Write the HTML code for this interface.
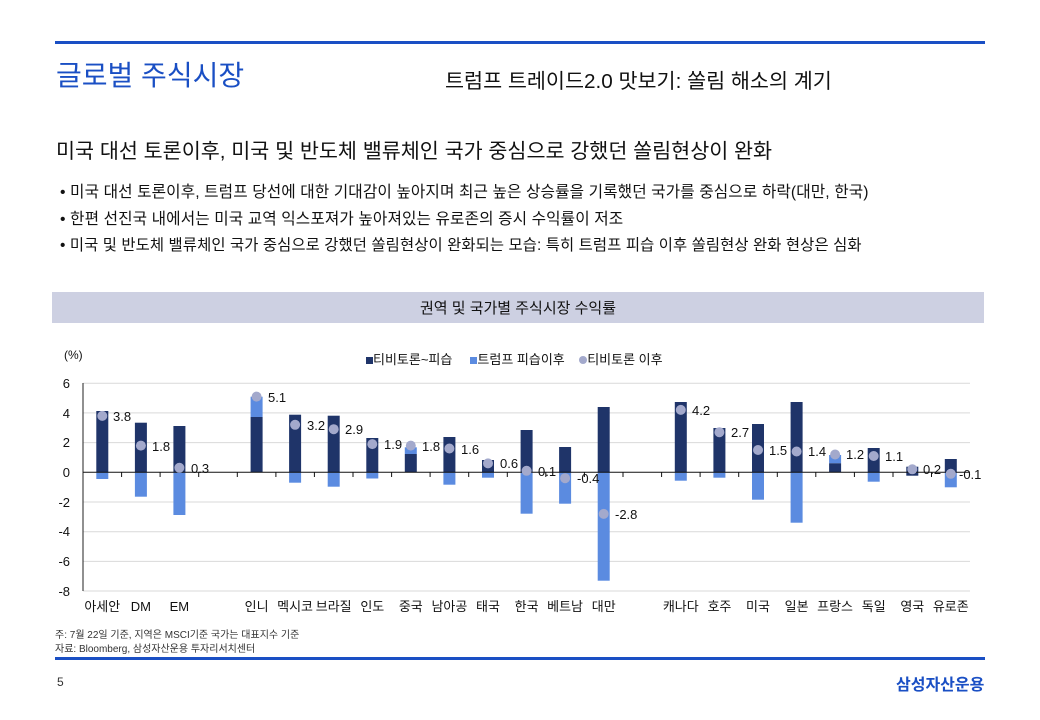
<!DOCTYPE html>
<html><head><meta charset="utf-8"><style>
body{margin:0;width:1040px;height:720px;background:#fff;position:relative;overflow:hidden;font-family:"Liberation Sans","Noto Sans CJK KR",sans-serif;color:#111}
.a{position:absolute;white-space:nowrap}
</style></head><body>
<div class="a" style="left:55px;top:41px;width:930px;height:3px;background:#1a4fc4"></div>
<div class="a" style="left:56px;top:54px;font-size:28px;color:#1a4fc4">글로벌 주식시장</div>
<div class="a" style="left:445px;top:64px;font-size:20.7px">트럼프 트레이드2.0 맛보기: 쏠림 해소의 계기</div>
<div class="a" style="left:56px;top:134px;font-size:20.7px">미국 대선 토론이후, 미국 및 반도체 밸류체인 국가 중심으로 강했던 쏠림현상이 완화</div>
<div class="a" style="left:60px;top:179px;font-size:15.7px;letter-spacing:0.1px">• 미국 대선 토론이후, 트럼프 당선에 대한 기대감이 높아지며 최근 높은 상승률을 기록했던 국가를 중심으로 하락(대만, 한국)</div>
<div class="a" style="left:60px;top:206px;font-size:15.7px;letter-spacing:0.1px">• 한편 선진국 내에서는 미국 교역 익스포져가 높아져있는 유로존의 증시 수익률이 저조</div>
<div class="a" style="left:60px;top:233px;font-size:15.4px;letter-spacing:0.1px">• 미국 및 반도체 밸류체인 국가 중심으로 강했던 쏠림현상이 완화되는 모습: 특히 트럼프 피습 이후 쏠림현상 완화 현상은 심화</div>
<div class="a" style="left:52px;top:292px;width:932px;height:31px;background:#cdd0e2"></div>
<div class="a" style="left:52px;top:297px;width:932px;text-align:center;font-size:15px">권역 및 국가별 주식시장 수익률</div>
<div class="a" style="left:64px;top:348px;font-size:12px">(%)</div>
<div class="a" style="left:366px;top:349px;font-size:13px"><span style="display:inline-block;width:7px;height:7px;background:#1f3469"></span>티비토론~피습 &nbsp;&nbsp;&nbsp;&nbsp;<span style="display:inline-block;width:7px;height:7px;background:#5b8be0"></span>트럼프 피습이후 &nbsp;&nbsp;&nbsp;<span style="display:inline-block;width:8px;height:8px;border-radius:50%;background:#a3a9cc"></span>티비토론 이후</div>
<svg class="a" style="left:0;top:0" width="1040" height="720" font-family="Liberation Sans,Noto Sans CJK KR,sans-serif" font-size="13">
<g stroke="#d9d9d9" stroke-width="1">
<line x1="83" x2="970" y1="383.2" y2="383.2"/><line x1="83" x2="970" y1="412.9" y2="412.9"/><line x1="83" x2="970" y1="442.6" y2="442.6"/><line x1="83" x2="970" y1="502" y2="502"/><line x1="83" x2="970" y1="531.7" y2="531.7"/><line x1="83" x2="970" y1="561.4" y2="561.4"/><line x1="83" x2="970" y1="591" y2="591"/>
</g>
<g font-size="13" text-anchor="end" fill="#111">
<text x="70" y="388">6</text><text x="70" y="418">4</text><text x="70" y="447">2</text><text x="70" y="477">0</text><text x="70" y="507">-2</text><text x="70" y="536">-4</text><text x="70" y="566">-6</text><text x="70" y="596">-8</text>
</g>
<line x1="83" x2="83" y1="383" y2="591" stroke="#222"/>
<g fill="#5b8be0">
<rect x="96.3" y="472" width="12" height="7"/><rect x="134.9" y="472" width="12" height="24.7"/><rect x="173.4" y="472" width="12" height="43"/>
<rect x="250.6" y="396.7" width="12" height="20.3"/><rect x="289.1" y="472" width="12" height="10.7"/><rect x="327.7" y="472" width="12" height="14.7"/><rect x="366.3" y="472" width="12" height="6.5"/><rect x="404.8" y="447.3" width="12" height="6.7"/><rect x="443.4" y="472" width="12" height="12.7"/><rect x="482" y="472" width="12" height="5.7"/><rect x="520.6" y="472" width="12" height="41.7"/><rect x="559.1" y="472" width="12" height="31.7"/><rect x="597.7" y="472" width="12" height="108.7"/>
<rect x="674.8" y="472" width="12" height="8.7"/><rect x="713.4" y="472" width="12" height="5.7"/><rect x="752" y="472" width="12" height="27.7"/><rect x="790.6" y="472" width="12" height="50.7"/><rect x="829.1" y="455" width="12" height="8.3"/><rect x="867.7" y="472" width="12" height="9.7"/><rect x="944.8" y="472" width="12" height="15.3"/>
</g>
<g fill="#1f3469">
<rect x="96.3" y="411" width="12" height="61.3"/><rect x="134.9" y="422.7" width="12" height="49.6"/><rect x="173.4" y="426" width="12" height="46.3"/>
<rect x="250.6" y="417" width="12" height="55.3"/><rect x="289.1" y="414.7" width="12" height="57.6"/><rect x="327.7" y="415.7" width="12" height="56.6"/><rect x="366.3" y="438" width="12" height="34.3"/><rect x="404.8" y="454" width="12" height="18.3"/><rect x="443.4" y="437" width="12" height="35.3"/><rect x="482" y="460" width="12" height="12.3"/><rect x="520.6" y="430" width="12" height="42.3"/><rect x="559.1" y="447" width="12" height="25.3"/><rect x="597.7" y="407" width="12" height="65.3"/>
<rect x="674.8" y="402" width="12" height="70.3"/><rect x="713.4" y="428" width="12" height="44.3"/><rect x="752" y="424" width="12" height="48.3"/><rect x="790.6" y="402" width="12" height="70.3"/><rect x="829.1" y="463.3" width="12" height="9"/><rect x="867.7" y="448" width="12" height="24.3"/><rect x="906.3" y="466.7" width="12" height="9"/><rect x="944.8" y="459" width="12" height="13.3"/>
</g>
<line x1="83" x2="970" y1="472.3" y2="472.3" stroke="#111"/>
<g stroke="#111">
<line x1="121.6" x2="121.6" y1="472" y2="477"/><line x1="160.1" x2="160.1" y1="472" y2="477"/><line x1="198.7" x2="198.7" y1="472" y2="477"/><line x1="237.3" x2="237.3" y1="472" y2="477"/><line x1="275.9" x2="275.9" y1="472" y2="477"/><line x1="314.4" x2="314.4" y1="472" y2="477"/><line x1="353" x2="353" y1="472" y2="477"/><line x1="391.6" x2="391.6" y1="472" y2="477"/><line x1="430.1" x2="430.1" y1="472" y2="477"/><line x1="468.7" x2="468.7" y1="472" y2="477"/><line x1="507.3" x2="507.3" y1="472" y2="477"/><line x1="545.8" x2="545.8" y1="472" y2="477"/><line x1="584.4" x2="584.4" y1="472" y2="477"/><line x1="623" x2="623" y1="472" y2="477"/><line x1="661.6" x2="661.6" y1="472" y2="477"/><line x1="700.1" x2="700.1" y1="472" y2="477"/><line x1="738.7" x2="738.7" y1="472" y2="477"/><line x1="777.3" x2="777.3" y1="472" y2="477"/><line x1="815.8" x2="815.8" y1="472" y2="477"/><line x1="854.4" x2="854.4" y1="472" y2="477"/><line x1="893" x2="893" y1="472" y2="477"/><line x1="931.5" x2="931.5" y1="472" y2="477"/>
</g>
<g fill="#a3a9cc">
<circle cx="102.3" cy="415.9" r="5"/><circle cx="140.9" cy="445.6" r="5"/><circle cx="179.4" cy="467.8" r="5"/><circle cx="256.6" cy="396.6" r="5"/><circle cx="295.1" cy="424.8" r="5"/><circle cx="333.7" cy="429.2" r="5"/><circle cx="372.3" cy="444.1" r="5"/><circle cx="410.8" cy="445.6" r="5"/><circle cx="449.4" cy="448.5" r="5"/><circle cx="488" cy="463.4" r="5"/><circle cx="526.6" cy="470.8" r="5"/><circle cx="565.1" cy="478.2" r="5"/><circle cx="603.7" cy="513.9" r="5"/><circle cx="680.8" cy="409.9" r="5"/><circle cx="719.4" cy="432.2" r="5"/><circle cx="758" cy="450" r="5"/><circle cx="796.6" cy="451.5" r="5"/><circle cx="835.1" cy="454.5" r="5"/><circle cx="873.7" cy="456" r="5"/><circle cx="912.3" cy="469.3" r="5"/><circle cx="950.8" cy="473.8" r="5"/>
</g>
<g fill="#111">
<text x="113" y="421">3.8</text><text x="152" y="451">1.8</text><text x="191" y="473">0.3</text><text x="268" y="402">5.1</text><text x="307" y="430">3.2</text><text x="345" y="434">2.9</text><text x="384" y="449">1.9</text><text x="422" y="451">1.8</text><text x="461" y="454">1.6</text><text x="500" y="468">0.6</text><text x="538" y="476">0.1</text><text x="577" y="483">-0.4</text><text x="615" y="519">-2.8</text><text x="692" y="415">4.2</text><text x="731" y="437">2.7</text><text x="769" y="455">1.5</text><text x="808" y="456">1.4</text><text x="846" y="459">1.2</text><text x="885" y="461">1.1</text><text x="923" y="474">0.2</text><text x="959" y="479">-0.1</text>
</g>
<g text-anchor="middle" font-size="13" fill="#111">
<text x="102.3" y="611">아세안</text><text x="140.9" y="611">DM</text><text x="179.4" y="611">EM</text><text x="256.6" y="611">인니</text><text x="295.1" y="611">멕시코</text><text x="333.7" y="611">브라질</text><text x="372.3" y="611">인도</text><text x="410.8" y="611">중국</text><text x="449.4" y="611">남아공</text><text x="488" y="611">태국</text><text x="526.6" y="611">한국</text><text x="565.1" y="611">베트남</text><text x="603.7" y="611">대만</text><text x="680.8" y="611">캐나다</text><text x="719.4" y="611">호주</text><text x="758" y="611">미국</text><text x="796.6" y="611">일본</text><text x="835.1" y="611">프랑스</text><text x="873.7" y="611">독일</text><text x="912.3" y="611">영국</text><text x="950.8" y="611">유로존</text>
</g>
</svg>
<div class="a" style="left:55px;top:626px;font-size:10px;color:#333">주: 7월 22일 기준, 지역은 MSCI기준 국가는 대표지수 기준</div>
<div class="a" style="left:55px;top:640px;font-size:10px;color:#333">자료: Bloomberg, 삼성자산운용 투자리서치센터</div>
<div class="a" style="left:55px;top:657px;width:930px;height:3px;background:#1a4fc4"></div>
<div class="a" style="left:57px;top:675px;font-size:12px;color:#333">5</div>
<div class="a" style="left:896px;top:671px;font-size:16px;font-weight:bold;color:#1a4fc4">삼성자산운용</div>
</body></html>
